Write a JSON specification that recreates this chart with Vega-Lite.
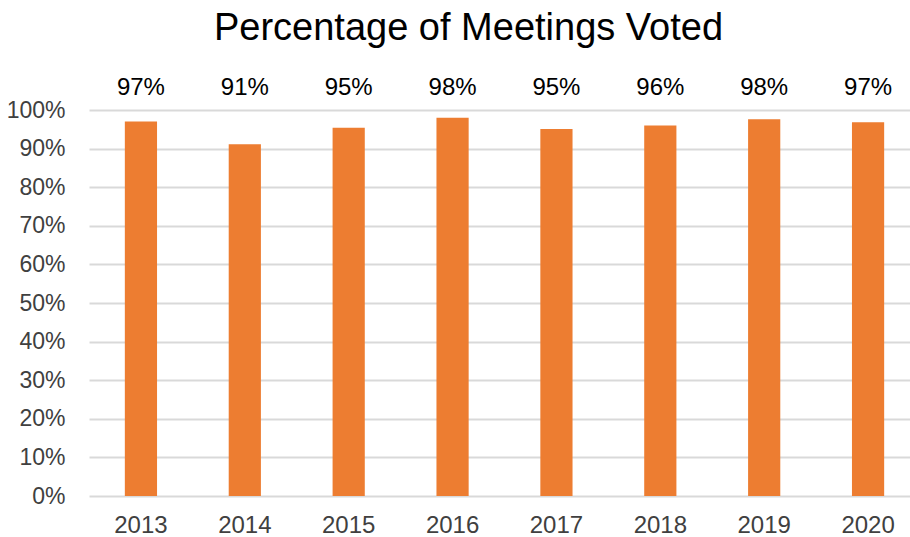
{
  "$schema": "https://vega.github.io/schema/vega-lite/v6.json",
  "autosize": {"type": "none"},
  "padding": {"left": 89, "top": 110, "right": 0, "bottom": 41},
  "width": 821,
  "height": 386,
  "background": "white",
  "title": {
    "text": "Percentage of Meetings Voted",
    "font": "Liberation Sans",
    "fontSize": 38,
    "fontWeight": "normal",
    "color": "#000000",
    "anchor": "middle",
    "dx": -31,
    "offset": 28
  },
  "data": {
    "values": [
      {"year": "2013", "value": 0.970},
      {"year": "2014", "value": 0.911},
      {"year": "2015", "value": 0.954},
      {"year": "2016", "value": 0.980},
      {"year": "2017", "value": 0.951},
      {"year": "2018", "value": 0.960},
      {"year": "2019", "value": 0.976},
      {"year": "2020", "value": 0.968}
    ]
  },
  "config": {
    "view": {"stroke": null},
    "axis": {"labelFont": "Liberation Sans", "labelColor": "#404040"},
    "axisY": {
      "labelOverlap": false,
      "tickCount": 12,
      "labelFontSize": 23,
      "ticks": false,
      "domain": false,
      "labelPadding": 24,
      "grid": true,
      "gridColor": "#d9d9d9",
      "gridWidth": 2
    }
  },
  "encoding": {
    "x": {
      "field": "year",
      "type": "nominal",
      "scale": {"range": [0, 831], "paddingInner": 0.69, "paddingOuter": 0.345},
      "axis": {"title": null, "labelAngle": 0, "labelFontSize": 24, "ticks": false, "domain": false, "labelPadding": 17, "grid": false}
    }
  },
  "layer": [
    {
      "mark": {"type": "bar", "color": "#ED7D31"},
      "encoding": {
        "y": {
          "field": "value",
          "type": "quantitative",
          "scale": {"domain": [0, 1]},
          "axis": {
            "title": null,
            "format": ".0%",
            "tickCount": 12,
            "values": [0, 0.1, 0.2, 0.3, 0.4, 0.5, 0.6, 0.7, 0.8, 0.9, 1],
            "labelOverlap": false
          }
        }
      }
    },
    {
      "mark": {"type": "text", "font": "Liberation Sans", "fontSize": 24, "color": "#000000", "baseline": "middle", "dy": -22},
      "encoding": {
        "y": {
          "datum": 1,
          "type": "quantitative",
          "axis": {
            "title": null,
            "format": ".0%",
            "tickCount": 12,
            "values": [0, 0.1, 0.2, 0.3, 0.4, 0.5, 0.6, 0.7, 0.8, 0.9, 1],
            "labelOverlap": false
          }
        },
        "text": {"field": "value", "type": "quantitative", "format": ".0%"}
      }
    }
  ]
}
